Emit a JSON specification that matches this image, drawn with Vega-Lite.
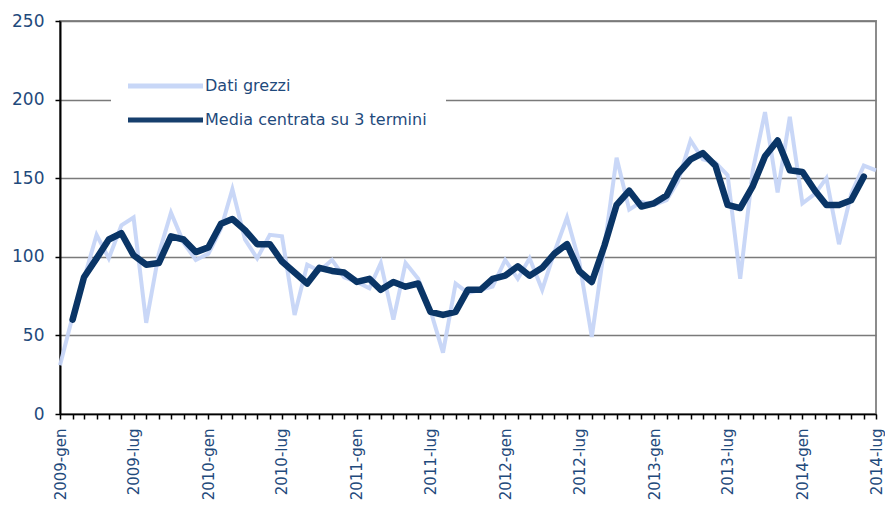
{
  "$schema": "https://vega.github.io/schema/vega-lite/v6.json",
  "width": 816,
  "height": 393,
  "autosize": {"type": "none"},
  "padding": {"left": 60, "top": 21, "right": 9, "bottom": 95},
  "background": "white",
  "config": {
    "view": {"stroke": "#8c8c8c", "strokeWidth": 2},
    "font": "DejaVu Sans",
    "axis": {"labelFont": "DejaVu Sans", "labelColor": "#1f4a7c", "domainColor": "#000000", "tickColor": "#000000"}
  },
  "data": {
    "values": [
      {"m": "2009-01-01", "raw": 31, "ma": null},
      {"m": "2009-02-01", "raw": 62, "ma": 60},
      {"m": "2009-03-01", "raw": 86, "ma": 87},
      {"m": "2009-04-01", "raw": 114, "ma": 99},
      {"m": "2009-05-01", "raw": 99, "ma": 111},
      {"m": "2009-06-01", "raw": 120, "ma": 115},
      {"m": "2009-07-01", "raw": 125, "ma": 101},
      {"m": "2009-08-01", "raw": 58, "ma": 95},
      {"m": "2009-09-01", "raw": 102, "ma": 96},
      {"m": "2009-10-01", "raw": 128, "ma": 113},
      {"m": "2009-11-01", "raw": 109, "ma": 111},
      {"m": "2009-12-01", "raw": 98, "ma": 103},
      {"m": "2010-01-01", "raw": 102, "ma": 106},
      {"m": "2010-02-01", "raw": 118, "ma": 121},
      {"m": "2010-03-01", "raw": 143, "ma": 124},
      {"m": "2010-04-01", "raw": 111, "ma": 117},
      {"m": "2010-05-01", "raw": 99, "ma": 108},
      {"m": "2010-06-01", "raw": 114, "ma": 108},
      {"m": "2010-07-01", "raw": 113, "ma": 97},
      {"m": "2010-08-01", "raw": 63, "ma": 90},
      {"m": "2010-09-01", "raw": 95, "ma": 83},
      {"m": "2010-10-01", "raw": 91, "ma": 93},
      {"m": "2010-11-01", "raw": 98, "ma": 91},
      {"m": "2010-12-01", "raw": 87, "ma": 90},
      {"m": "2011-01-01", "raw": 84, "ma": 84},
      {"m": "2011-02-01", "raw": 80, "ma": 86},
      {"m": "2011-03-01", "raw": 96, "ma": 79},
      {"m": "2011-04-01", "raw": 60, "ma": 84},
      {"m": "2011-05-01", "raw": 96, "ma": 81},
      {"m": "2011-06-01", "raw": 86, "ma": 83},
      {"m": "2011-07-01", "raw": 66, "ma": 65},
      {"m": "2011-08-01", "raw": 39, "ma": 63},
      {"m": "2011-09-01", "raw": 83, "ma": 65},
      {"m": "2011-10-01", "raw": 77, "ma": 79},
      {"m": "2011-11-01", "raw": 79, "ma": 79},
      {"m": "2011-12-01", "raw": 81, "ma": 86},
      {"m": "2012-01-01", "raw": 98, "ma": 88},
      {"m": "2012-02-01", "raw": 86, "ma": 94},
      {"m": "2012-03-01", "raw": 99, "ma": 88},
      {"m": "2012-04-01", "raw": 79, "ma": 93},
      {"m": "2012-05-01", "raw": 103, "ma": 102},
      {"m": "2012-06-01", "raw": 125, "ma": 108},
      {"m": "2012-07-01", "raw": 97, "ma": 91},
      {"m": "2012-08-01", "raw": 49, "ma": 84},
      {"m": "2012-09-01", "raw": 106, "ma": 107},
      {"m": "2012-10-01", "raw": 163, "ma": 133},
      {"m": "2012-11-01", "raw": 130, "ma": 142},
      {"m": "2012-12-01", "raw": 135, "ma": 132},
      {"m": "2013-01-01", "raw": 133, "ma": 134},
      {"m": "2013-02-01", "raw": 136, "ma": 139},
      {"m": "2013-03-01", "raw": 148, "ma": 153},
      {"m": "2013-04-01", "raw": 174, "ma": 162},
      {"m": "2013-05-01", "raw": 162, "ma": 166},
      {"m": "2013-06-01", "raw": 160, "ma": 158},
      {"m": "2013-07-01", "raw": 152, "ma": 133},
      {"m": "2013-08-01", "raw": 86, "ma": 131},
      {"m": "2013-09-01", "raw": 155, "ma": 145},
      {"m": "2013-10-01", "raw": 192, "ma": 164},
      {"m": "2013-11-01", "raw": 141, "ma": 174},
      {"m": "2013-12-01", "raw": 189, "ma": 155},
      {"m": "2014-01-01", "raw": 134, "ma": 154},
      {"m": "2014-02-01", "raw": 140, "ma": 142},
      {"m": "2014-03-01", "raw": 150, "ma": 133},
      {"m": "2014-04-01", "raw": 108, "ma": 133},
      {"m": "2014-05-01", "raw": 140, "ma": 136},
      {"m": "2014-06-01", "raw": 158, "ma": 151},
      {"m": "2014-07-01", "raw": 155, "ma": null}
    ]
  },
  "encoding": {
    "x": {
      "field": "m",
      "type": "temporal",
      "scale": {"type": "utc", "nice": false},
      "axis": {
        "title": null,
        "grid": false,
        "tickCount": {"interval": "month", "step": 1},
        "labelExpr": "utcmonth(datum.value) % 6 == 0 ? utcyear(datum.value) + '-' + (utcmonth(datum.value) == 0 ? 'gen' : 'lug') : ''",
        "labelAngle": -90,
        "labelAlign": "right",
        "labelBaseline": "middle",
        "labelFontSize": 15,
        "labelPadding": 9,
        "labelOverlap": false,
        "labelFlush": false,
        "labelBound": false,
        "tickSize": 5,
        "tickWidth": 1.5,
        "domainWidth": 1.5
      }
    }
  },
  "layer": [
    {
      "mark": {"type": "line", "strokeWidth": 4, "strokeJoin": "miter", "opacity": 0.95},
      "encoding": {
        "y": {
          "field": "raw",
          "type": "quantitative",
          "scale": {"domain": [0, 250], "nice": false},
          "axis": {
            "title": null,
            "values": [0, 50, 100, 150, 200, 250],
            "grid": true,
            "gridColor": "#7a7a7a",
            "gridWidth": 1.5,
            "labelFontSize": 17,
            "labelPadding": 11,
            "tickSize": 5,
            "tickWidth": 1.5,
            "domainWidth": 2
          }
        },
        "color": {
          "datum": "Dati grezzi",
          "type": "nominal",
          "scale": {"domain": ["Dati grezzi", "Media centrata su 3 termini"], "range": ["#c6d5f7", "#0a3566"]},
          "legend": {
            "title": null,
            "orient": "none",
            "legendX": 51,
            "legendY": 38,
            "padding": 19,
            "fillColor": "white",
            "symbolType": "M-2,0H13",
            "symbolSize": 100,
            "symbolStrokeWidth": 5,
            "labelFont": "DejaVu Sans",
            "labelFontSize": 16,
            "labelColor": "#1f4a7c",
            "labelOffset": 59,
            "rowPadding": 14,
            "labelLimit": 400,
            "encode": {
              "symbols": {"update": {"strokeWidth": {"signal": "datum.value == 'Dati grezzi' ? 4 : 7"}, "strokeCap": {"value": "round"}, "fill": {"value": "transparent"}}}
            }
          }
        }
      }
    },
    {
      "mark": {"type": "line", "strokeWidth": 6.5, "strokeJoin": "round", "strokeCap": "round"},
      "encoding": {
        "y": {"field": "ma", "type": "quantitative"},
        "color": {"datum": "Media centrata su 3 termini", "type": "nominal"}
      }
    }
  ]
}
